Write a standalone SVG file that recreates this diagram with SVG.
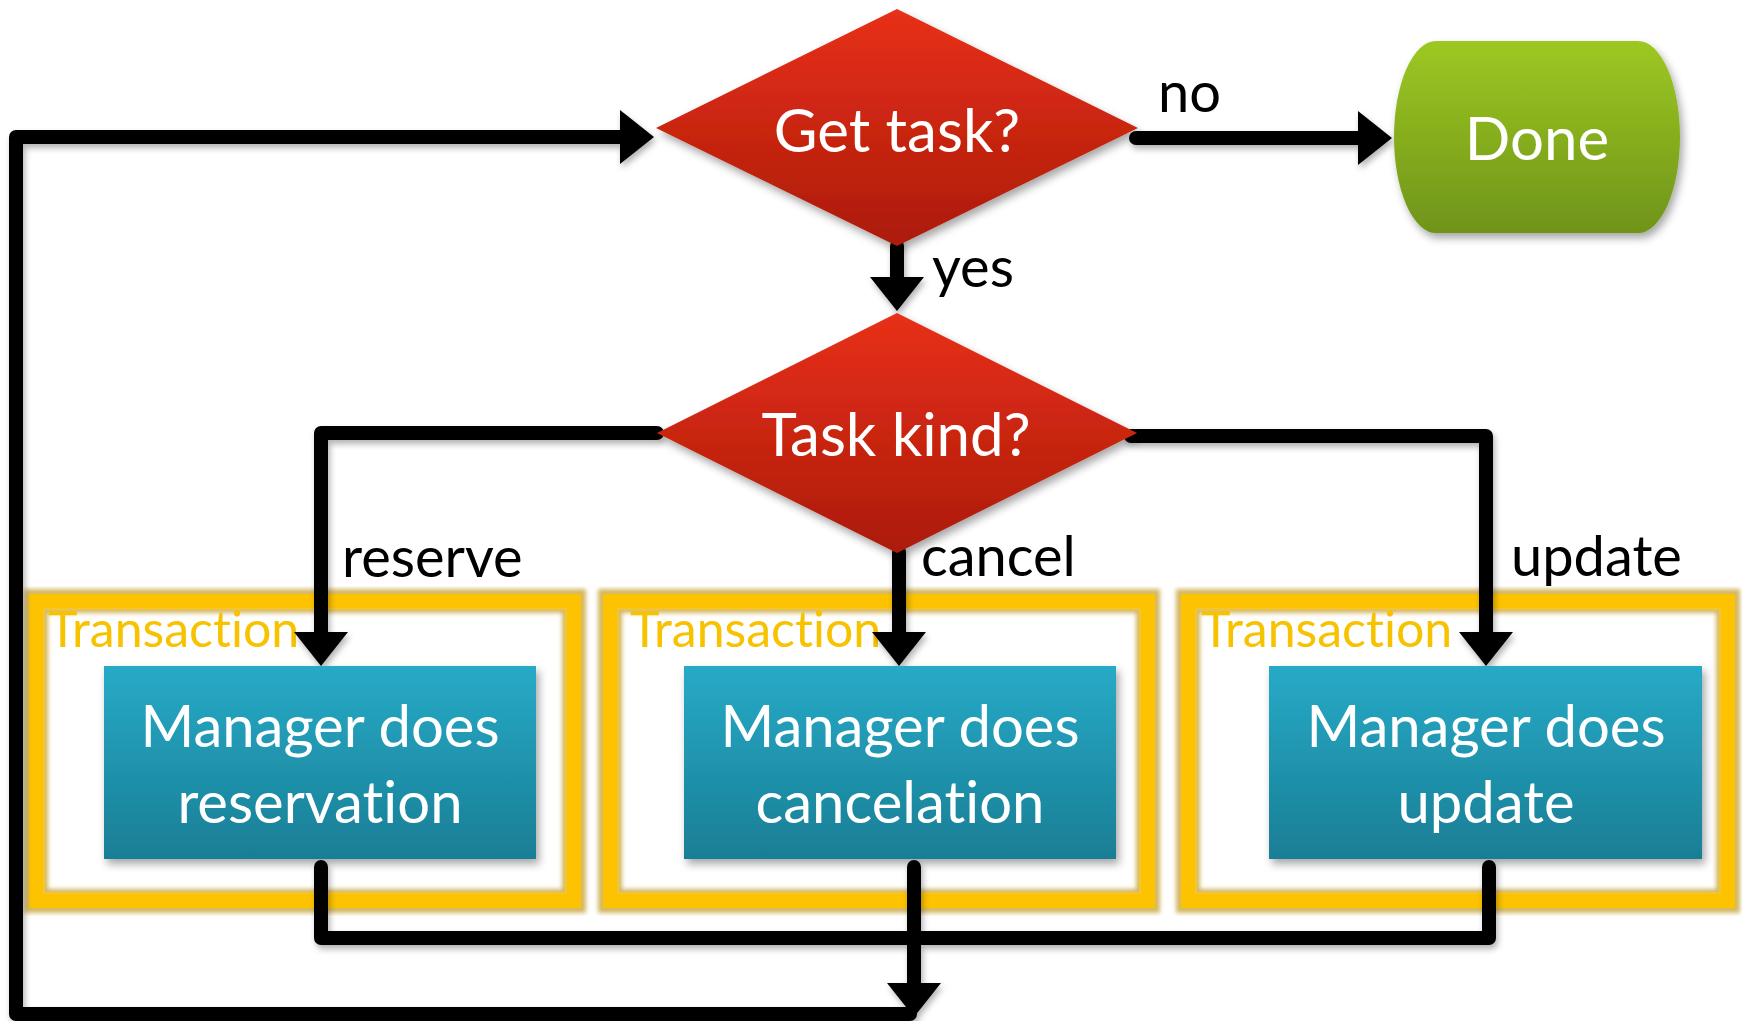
<svg xmlns="http://www.w3.org/2000/svg" width="1742" height="1021" viewBox="0 0 1742 1021">
  <defs>
    <linearGradient id="gRed" x1="0" y1="0" x2="0" y2="1">
      <stop offset="0" stop-color="#e8301a"/>
      <stop offset="1" stop-color="#ab1b08"/>
    </linearGradient>
    <linearGradient id="gGreen" x1="0" y1="0" x2="0" y2="1">
      <stop offset="0" stop-color="#9dc823"/>
      <stop offset="1" stop-color="#6f9419"/>
    </linearGradient>
    <linearGradient id="gBlue" x1="0" y1="0" x2="0" y2="1">
      <stop offset="0" stop-color="#27aac7"/>
      <stop offset="1" stop-color="#197e95"/>
    </linearGradient>
    <filter id="shadow" x="-10%" y="-10%" width="130%" height="130%">
      <feDropShadow dx="3" dy="5" stdDeviation="4" flood-color="#000" flood-opacity="0.35"/>
    </filter>
    <filter id="lineShadow" x="-5%" y="-5%" width="110%" height="110%">
      <feDropShadow dx="2" dy="4" stdDeviation="3" flood-color="#000" flood-opacity="0.3"/>
    </filter>
    <filter id="glow" x="-5%" y="-5%" width="110%" height="110%">
      <feGaussianBlur stdDeviation="2"/>
    </filter>
    <marker id="arrow" viewBox="0 0 34 54" markerWidth="34" markerHeight="54" refX="1" refY="27" orient="auto" markerUnits="userSpaceOnUse">
      <path d="M0,0 L34,27 L0,54 Z" fill="#000"/>
    </marker>
    <style>
      .txt { font-family: Lato, "Open Sans", "Liberation Sans", sans-serif; font-variant-ligatures: none; font-feature-settings: "liga" 0, "clig" 0, "dlig" 0; }
      .node { fill: #fff; font-size: 60px; text-anchor: middle; }
      .box { fill: #fff; font-size: 58px; text-anchor: middle; }
      .lbl { fill: #000; font-size: 56px; }
      .tx { fill: #f7c200; font-size: 50px; }
      .wire { fill: none; stroke: #000; stroke-width: 14; stroke-linecap: round; stroke-linejoin: round; }
      .frameOuter { fill: none; stroke: #c9a63a; stroke-width: 24; opacity: 0.8; }
      .frameMain { fill: none; stroke: #fdc300; stroke-width: 14; }
      .frameInner { fill: none; stroke: #f2c437; stroke-width: 2; }
    </style>
  </defs>

  <rect width="1742" height="1021" fill="#fff"/>

  <!-- transaction frames -->
  <g id="frame-reserve">
    <rect x="36" y="601" width="538" height="300" class="frameOuter" filter="url(#glow)"/>
    <rect x="36" y="601" width="538" height="300" class="frameMain"/>
    <rect x="44" y="609" width="522" height="284" class="frameInner"/>
    <text x="48" y="647" class="txt tx">Transaction</text>
  </g>
  <g id="frame-cancel">
    <rect x="610" y="601" width="538" height="300" class="frameOuter" filter="url(#glow)"/>
    <rect x="610" y="601" width="538" height="300" class="frameMain"/>
    <rect x="618" y="609" width="522" height="284" class="frameInner"/>
    <text x="630" y="647" class="txt tx">Transaction</text>
  </g>
  <g id="frame-update">
    <rect x="1188" y="601" width="540" height="300" class="frameOuter" filter="url(#glow)"/>
    <rect x="1188" y="601" width="540" height="300" class="frameMain"/>
    <rect x="1196" y="609" width="524" height="284" class="frameInner"/>
    <text x="1201" y="647" class="txt tx">Transaction</text>
  </g>

  <!-- connectors -->
  <g id="connectors" filter="url(#lineShadow)">
    <path class="wire" d="M910,1014 H16 V137 H621" marker-end="url(#arrow)"/>
    <path class="wire" d="M1136,138 H1359" marker-end="url(#arrow)"/>
    <path class="wire" d="M897,246 V278" marker-end="url(#arrow)"/>
    <path class="wire" d="M657,433 H321 V633" marker-end="url(#arrow)"/>
    <path class="wire" d="M899,552 V633" marker-end="url(#arrow)"/>
    <path class="wire" d="M1131,436 H1486 V633" marker-end="url(#arrow)"/>
    <path class="wire" d="M321,867 V938 H1489 V867"/>
    <path class="wire" d="M914,867 V984" marker-end="url(#arrow)"/>
  </g>

  <!-- decision: get task -->
  <g id="get-task">
    <polygon points="897,9 1138,128 897,246 656,128" fill="url(#gRed)" filter="url(#shadow)"/>
    <text x="897" y="152" class="txt node">Get task?</text>
  </g>

  <!-- terminal: done -->
  <g id="done">
    <rect x="1394" y="41" width="286" height="192" rx="42" ry="96" fill="url(#gGreen)" filter="url(#shadow)"/>
    <text x="1537" y="160" class="txt node">Done</text>
  </g>

  <!-- decision: task kind -->
  <g id="task-kind">
    <polygon points="897,313 1137,433 897,553 657,433" fill="url(#gRed)" filter="url(#shadow)"/>
    <text x="896" y="456" class="txt node">Task kind?</text>
  </g>

  <!-- process boxes -->
  <g id="do-reservation">
    <rect x="104" y="666" width="432" height="193" fill="url(#gBlue)" filter="url(#shadow)"/>
    <text x="320" y="747" class="txt box">Manager does</text>
    <text x="320" y="823" class="txt box">reservation</text>
  </g>
  <g id="do-cancelation">
    <rect x="684" y="666" width="432" height="193" fill="url(#gBlue)" filter="url(#shadow)"/>
    <text x="900" y="747" class="txt box">Manager does</text>
    <text x="900" y="823" class="txt box">cancelation</text>
  </g>
  <g id="do-update">
    <rect x="1269" y="666" width="433" height="193" fill="url(#gBlue)" filter="url(#shadow)"/>
    <text x="1486" y="747" class="txt box">Manager does</text>
    <text x="1486" y="823" class="txt box">update</text>
  </g>

  <!-- branch labels -->
  <g id="labels">
    <text x="1158" y="112" class="txt lbl">no</text>
    <text x="932" y="287" class="txt lbl">yes</text>
    <text x="342" y="577" class="txt lbl">reserve</text>
    <text x="921" y="576" class="txt lbl">cancel</text>
    <text x="1511" y="576" class="txt lbl">update</text>
  </g>
</svg>
